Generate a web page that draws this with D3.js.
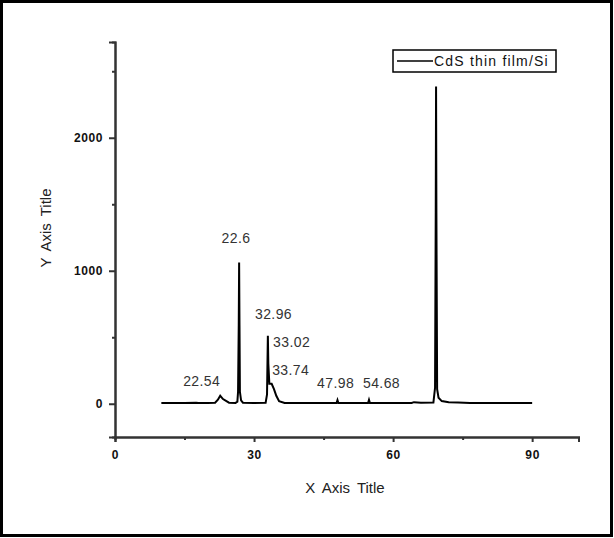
<!DOCTYPE html>
<html><head><meta charset="utf-8">
<script src="https://cdn.jsdelivr.net/npm/d3@7"></script>
<style>body{margin:0;background:#fff;}svg{display:block;}</style>
</head><body>
<script>
// Data (2θ in degrees, intensity in counts)
const twoTheta = [10,12,15,17.5,18,20,21.6,22.2,22.7,23.3,24.6,26,26.4,26.55,26.7,26.78,26.86,26.95,27.2,27.6,30,32.5,32.8,32.98,33.08,33.3,33.8,34.3,34.8,35.4,36.6,40,47.8,48,48.2,54.6,54.8,55,60,64,64.5,66,68.7,69.05,69.2,69.27,69.34,69.5,69.8,70.5,72,74,76.6,80,90];
const intensity = [5,6,6,8,5,6,8,30,60,35,8,6,15,90,600,1062,590,90,25,8,6,8,70,511,300,150,150,110,60,20,6,6,6,28,6,6,30,6,6,6,12,8,10,120,1440,2386,1440,110,45,20,12,10,6,6,6];
const seriesName = "CdS thin film/Si";
const peakLabels = ["22.6","22.54","32.96","33.02","33.74","47.98","54.68"];
const peakLabelX = [23.0,14.7,30.2,34.1,33.9,43.6,53.5];
const peakLabelY = [1205,135,640,430,215,120,120];
const xTicks = [0,30,60,90];
const xMinor = [15,45,75];
const yTicks = [0,1000,2000];
const yMinor = [500,1500,2500];

const W=614,H=538;
const svg=d3.select("body").append("svg").attr("width",W).attr("height",H);
svg.append("rect").attr("x",1.5).attr("y",1.5).attr("width",610).attr("height",534)
  .attr("fill","#fff").attr("stroke","#000").attr("stroke-width",3);

const x=d3.scaleLinear().domain([0,100]).range([115,578.5]);
const y=d3.scaleLinear().domain([-250,2720]).range([437,42]);

const axisColor="#333";
const xAxis=svg.append("g").attr("transform","translate(0,437)")
  .call(d3.axisBottom(x).tickValues(xTicks).tickSize(5).tickPadding(8).tickFormat(d3.format("d")));
const xAxisMinor=svg.append("g").attr("transform","translate(0,437)")
  .call(d3.axisBottom(x).tickValues(xMinor).tickSize(3).tickFormat(""));
const yAxis=svg.append("g").attr("transform","translate(115,0)")
  .call(d3.axisLeft(y).tickValues(yTicks).tickSize(6).tickPadding(6).tickFormat(d3.format("d")));
const yAxisMinor=svg.append("g").attr("transform","translate(115,0)")
  .call(d3.axisLeft(y).tickValues(yMinor).tickSize(3).tickFormat(""));
[xAxis,xAxisMinor,yAxis,yAxisMinor].forEach(g=>{
  g.selectAll(".domain").attr("stroke",axisColor).attr("stroke-width",2);
  g.selectAll(".tick line").attr("stroke",axisColor).attr("stroke-width",2);
  g.selectAll("text").attr("fill","#111").style("font-family","Liberation Sans, Arial, sans-serif")
   .style("font-size","12px").style("font-weight","bold").style("letter-spacing","0.6px");
});

const pts=twoTheta.map((d,i)=>[d,intensity[i]]);
svg.append("path").datum(pts)
  .attr("fill","none").attr("stroke","#000").attr("stroke-width",2).attr("stroke-linejoin","miter")
  .attr("d",d3.line().x(d=>x(d[0])).y(d=>y(d[1])));

svg.append("g").selectAll("text").data(peakLabels).join("text")
  .attr("x",(d,i)=>x(peakLabelX[i])).attr("y",(d,i)=>y(peakLabelY[i]))
  .attr("fill","#333").style("font-family","Liberation Sans, Arial, sans-serif")
  .style("font-size","14px").style("letter-spacing","0.4px").text(d=>d);

svg.append("text").attr("x",345).attr("y",493).attr("text-anchor","middle")
  .attr("fill","#222").style("font-family","Liberation Sans, Arial, sans-serif").style("font-size","15px")
  .style("word-spacing","3px").text("X Axis Title");
svg.append("text").attr("transform","translate(51,228) rotate(-90)").attr("text-anchor","middle")
  .attr("fill","#222").style("font-family","Liberation Sans, Arial, sans-serif").style("font-size","15px")
  .style("word-spacing","3px").text("Y Axis Title");

const lg=svg.append("g");
lg.append("rect").attr("x",393).attr("y",50).attr("width",163).attr("height",22)
  .attr("fill","#fff").attr("stroke","#000").attr("stroke-width",1.5);
lg.append("line").attr("x1",397).attr("x2",433).attr("y1",61).attr("y2",61).attr("stroke","#000").attr("stroke-width",1.5);
lg.append("text").attr("x",434).attr("y",66).attr("fill","#111")
  .style("font-family","Liberation Sans, Arial, sans-serif").style("font-size","14px").style("letter-spacing","1.2px")
  .text(seriesName);
</script>
</body></html>
